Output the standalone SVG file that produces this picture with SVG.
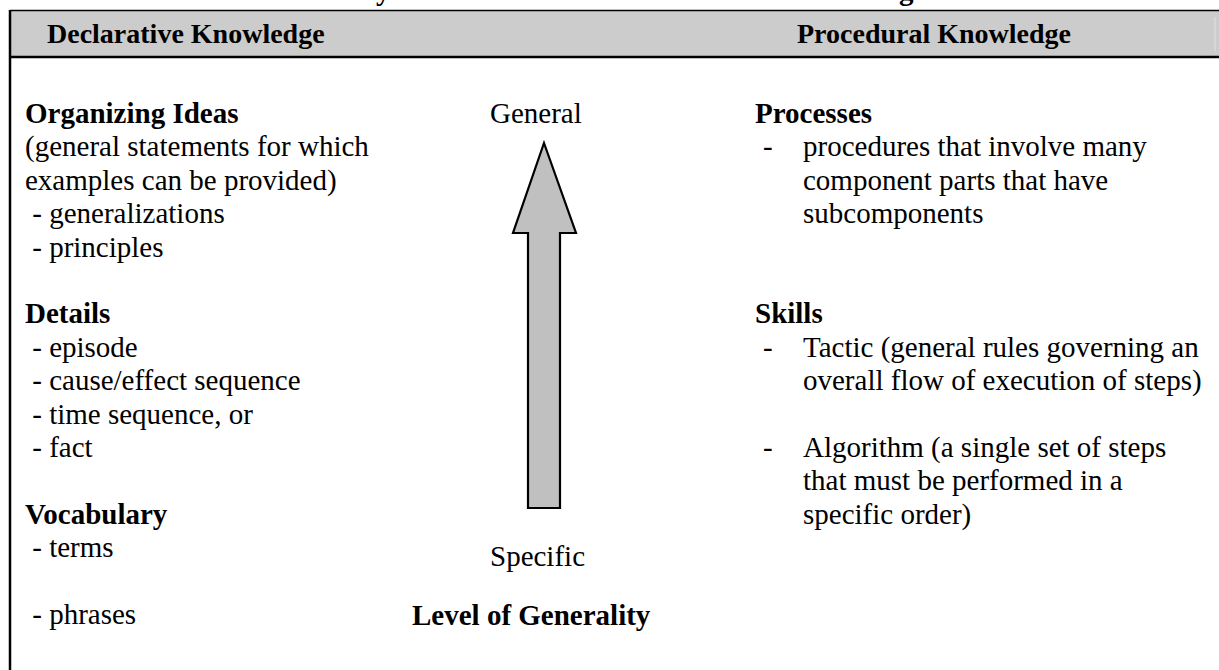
<svg xmlns="http://www.w3.org/2000/svg" width="1219" height="670" viewBox="0 0 1219 670">
  <style>
    .body { font-family: "Liberation Serif", "Times New Roman", serif; font-size: 29px; fill: #000; }
    .bold { font-family: "Liberation Serif", "Times New Roman", serif; font-size: 29px; font-weight: bold; fill: #000; }
    .head { font-family: "Liberation Serif", "Times New Roman", serif; font-size: 28px; font-weight: bold; fill: #000; }
  </style>
  <rect width="1219" height="670" fill="#fff"/>

  <!-- title line above the table, cut off at the top edge -->
  <g id="title">
    <text class="bold" x="376" y="-0.5">y</text>
    <text class="bold" x="899" y="-0.5">g</text>
  </g>

  <!-- header band -->
  <g id="header">
    <rect x="10" y="10" width="1209" height="47" fill="#cccccc"/>
    <line x1="10" y1="10.5" x2="1219" y2="10.5" stroke="#000" stroke-width="1.5"/>
    <line x1="10" y1="57" x2="1219" y2="57" stroke="#000" stroke-width="2.5"/>
    <line x1="1215" y1="17" x2="1215" y2="51" stroke="#e2e2e2" stroke-width="1"/>
    <text class="head" x="47" y="43">Declarative Knowledge</text>
    <text class="head" x="797" y="43">Procedural Knowledge</text>
  </g>

  <!-- left frame edge -->
  <line x1="10" y1="10" x2="10" y2="670" stroke="#000" stroke-width="2.5"/>

  <g id="declarative">
    <text class="bold" x="25" y="123">Organizing Ideas</text>
    <text class="body" x="25" y="156">(general statements for which</text>
    <text class="body" x="25" y="190">examples can be provided)</text>
    <text class="body" x="25" y="223" xml:space="preserve"> - generalizations</text>
    <text class="body" x="25" y="257" xml:space="preserve"> - principles</text>

    <text class="bold" x="25" y="323">Details</text>
    <text class="body" x="25" y="357" xml:space="preserve"> - episode</text>
    <text class="body" x="25" y="390" xml:space="preserve"> - cause/effect sequence</text>
    <text class="body" x="25" y="424" xml:space="preserve"> - time sequence, or</text>
    <text class="body" x="25" y="457" xml:space="preserve"> - fact</text>

    <text class="bold" x="25" y="524">Vocabulary</text>
    <text class="body" x="25" y="557" xml:space="preserve"> - terms</text>
    <text class="body" x="25" y="624" xml:space="preserve"> - phrases</text>
  </g>

  <g id="generality">
    <text class="body" x="490" y="123">General</text>
    <path d="M544,143 L576,233 L560,233 L560,508 L528,508 L528,233 L513,233 Z" fill="#c0c0c0" stroke="#000" stroke-width="2.2" stroke-linejoin="miter"/>
    <text class="body" x="490" y="566">Specific</text>
    <text class="bold" x="412" y="625">Level of Generality</text>
  </g>

  <g id="procedural">
    <text class="bold" x="755" y="123">Processes</text>
    <text class="body" x="763" y="156">-</text>
    <text class="body" x="803" y="156">procedures that involve many</text>
    <text class="body" x="803" y="190">component parts that have</text>
    <text class="body" x="803" y="223">subcomponents</text>

    <text class="bold" x="755" y="323">Skills</text>
    <text class="body" x="763" y="357">-</text>
    <text class="body" x="803" y="357">Tactic (general rules governing an</text>
    <text class="body" x="803" y="390">overall flow of execution of steps)</text>
    <text class="body" x="763" y="457">-</text>
    <text class="body" x="803" y="457">Algorithm (a single set of steps</text>
    <text class="body" x="803" y="490">that must be performed in a</text>
    <text class="body" x="803" y="524">specific order)</text>
  </g>
</svg>
